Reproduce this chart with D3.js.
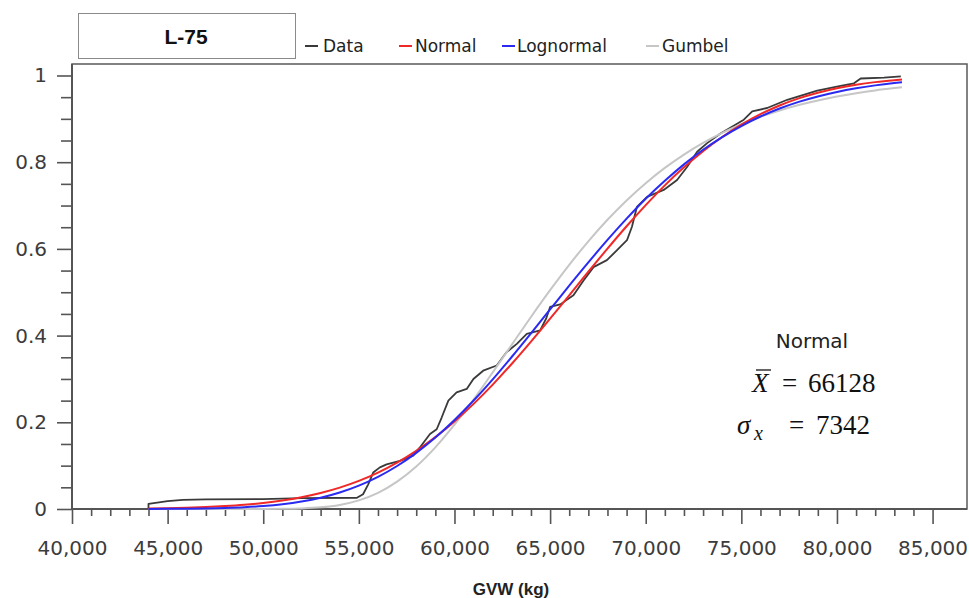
<!DOCTYPE html>
<html>
<head>
<meta charset="utf-8">
<script src="https://cdn.jsdelivr.net/npm/d3@7/dist/d3.min.js"></script>
<style>
  html, body { margin: 0; padding: 0; background: #fff; }
  svg { display: block; }
</style>
</head>
<body>
<svg id="chart" width="969" height="598"></svg>
<script>
// ---------- data ----------
const chartTitle = "L-75";
const seriesNames = ["Data", "Normal", "Lognormal", "Gumbel"];
const xTickValues = [40000, 45000, 50000, 55000, 60000, 65000, 70000, 75000, 80000, 85000];
const yTickValues = [0, 0.2, 0.4, 0.6, 0.8, 1];

// empirical CDF (Data)
const dataX = [44000,44000,45000,45800,47000,50000,52000,54900,55220,55490,55750,56100,56450,57150,57840,58190,58720,59070,59330,59680,60110,60640,60990,61500,62210,62730,63260,63780,64480,64800,65000,65530,66220,66750,67270,67970,68500,69020,69280,69540,70070,70940,71640,72160,72690,73210,73910,74600,75130,75570,76350,77400,78970,80190,80890,81240,82460,83340];
const dataY = [0,0.012,0.018,0.021,0.022,0.023,0.025,0.026,0.034,0.057,0.084,0.096,0.103,0.111,0.123,0.142,0.173,0.184,0.211,0.250,0.269,0.277,0.300,0.319,0.331,0.362,0.381,0.404,0.412,0.440,0.466,0.472,0.493,0.527,0.558,0.574,0.597,0.620,0.651,0.697,0.720,0.736,0.759,0.789,0.824,0.844,0.866,0.884,0.898,0.917,0.925,0.944,0.965,0.976,0.982,0.993,0.995,0.998];

// fitted curves, sampled along GVW
const gvwGrid = [44000,45000,46000,47000,48000,49000,50000,51000,52000,53000,54000,55000,56000,57000,58000,59000,60000,61000,62000,63000,64000,65000,66000,67000,68000,69000,70000,71000,72000,73000,74000,75000,76000,77000,78000,79000,80000,81000,82000,83000,83400];
const normalCdf = [0.0013,0.0020,0.0031,0.0046,0.0068,0.0098,0.0140,0.0197,0.0272,0.0369,0.0493,0.0648,0.0839,0.1069,0.1341,0.1658,0.2019,0.2425,0.2870,0.3350,0.3860,0.4390,0.4930,0.5473,0.6006,0.6522,0.7010,0.7466,0.7881,0.8254,0.8582,0.8866,0.9107,0.9307,0.9471,0.9602,0.9706,0.9786,0.9847,0.9892,0.9907];
const lognormalCdf = [0.0001,0.0003,0.0006,0.0012,0.0023,0.0040,0.0068,0.0110,0.0172,0.0259,0.0380,0.0538,0.0741,0.0992,0.1294,0.1648,0.2053,0.2502,0.2991,0.3512,0.4052,0.4602,0.5152,0.5688,0.6206,0.6697,0.7157,0.7571,0.7950,0.8287,0.8580,0.8834,0.9054,0.9238,0.9391,0.9517,0.9621,0.9705,0.9772,0.9825,0.9843];
const gumbelCdf = [0,0,0,0,0,0,0.0001,0.0004,0.0013,0.0038,0.0094,0.0198,0.0371,0.0630,0.0980,0.1423,0.1945,0.2526,0.3151,0.3791,0.4430,0.5047,0.5632,0.6174,0.6671,0.7118,0.7516,0.7868,0.8176,0.8444,0.8676,0.8876,0.9047,0.9193,0.9318,0.9424,0.9514,0.9590,0.9655,0.9709,0.9729];

const statLabel = "Normal";
const meanValue = "66128";
const sigmaValue = "7342";
const xAxisTitle = "GVW (kg)";

// ---------- layout ----------
const colors = { Data: "#3a3a3a", Normal: "#f02828", Lognormal: "#2a2af2", Gumbel: "#c6c6c6" };
const L = 72, R = 967, T = 64, B = 509;

const svg = d3.select("#chart");
const x = d3.scaleLinear().domain([40000, 86800]).range([L, R]);
const y = d3.scaleLinear().domain([0, 1.0265]).range([B, T]);

// plot frame
svg.append("rect").attr("x", L).attr("y", T).attr("width", R - L).attr("height", B - T)
  .attr("fill", "#fff").attr("stroke", "#5a5a5a").attr("stroke-width", 1.5);

// minor ticks
const xMinor = d3.range(41000, 86000, 1000).filter(v => v % 5000 !== 0);
const yMinor = d3.range(1, 20).map(i => i * 0.05).filter((v, i) => (i + 1) % 4 !== 0);

svg.append("g").attr("transform", `translate(0,${B})`)
  .call(d3.axisBottom(x).tickValues(xTickValues).tickFormat(d3.format(",")).tickSize(15).tickPadding(17));
svg.append("g").attr("transform", `translate(0,${B})`)
  .call(d3.axisBottom(x).tickValues(xMinor).tickFormat("").tickSize(7))
  .call(g => g.select(".domain").remove());

svg.append("g").attr("transform", `translate(${L},0)`)
  .call(d3.axisLeft(y).tickValues(yTickValues).tickFormat(d => (d === 0 || d === 1) ? d3.format("d")(d) : d3.format(".1f")(d)).tickSize(15).tickPadding(10));
svg.append("g").attr("transform", `translate(${L},0)`)
  .call(d3.axisLeft(y).tickValues(yMinor).tickFormat("").tickSize(11))
  .call(g => g.select(".domain").remove());

svg.selectAll(".tick line").attr("stroke", "#555").attr("stroke-width", 1.6);
svg.selectAll(".domain").remove();
svg.selectAll(".tick text").attr("font-family", "DejaVu Sans").attr("font-size", 20).attr("fill", "#3c3c3c");

// axis lines on top of frame
svg.append("line").attr("x1", L).attr("x2", L).attr("y1", T).attr("y2", B + 1).attr("stroke", "#555").attr("stroke-width", 2);
svg.append("line").attr("x1", L - 1).attr("x2", R).attr("y1", B).attr("y2", B).attr("stroke", "#555").attr("stroke-width", 2);

// curves
const fitLine = d3.line().x(d => x(d[0])).y(d => y(d[1])).curve(d3.curveMonotoneX);
const dataLine = d3.line().x(d => x(d[0])).y(d => y(d[1]));

const plot = svg.append("g");
plot.append("path").datum(dataX.map((v, i) => [v, dataY[i]]))
  .attr("d", dataLine).attr("fill", "none").attr("stroke", colors.Data).attr("stroke-width", 1.8).attr("stroke-linejoin", "round");
plot.append("path").datum(gvwGrid.map((v, i) => [v, gumbelCdf[i]]))
  .attr("d", fitLine).attr("fill", "none").attr("stroke", colors.Gumbel).attr("stroke-width", 2);
plot.append("path").datum(gvwGrid.map((v, i) => [v, normalCdf[i]]))
  .attr("d", fitLine).attr("fill", "none").attr("stroke", colors.Normal).attr("stroke-width", 2);
plot.append("path").datum(gvwGrid.map((v, i) => [v, lognormalCdf[i]]))
  .attr("d", fitLine).attr("fill", "none").attr("stroke", colors.Lognormal).attr("stroke-width", 2);

// title box
svg.append("rect").attr("x", 78.5).attr("y", 13.5).attr("width", 217).attr("height", 45)
  .attr("fill", "#fff").attr("stroke", "#8a8a8a").attr("stroke-width", 1);
svg.append("text").attr("x", 186).attr("y", 44).attr("text-anchor", "middle")
  .attr("font-family", "Liberation Sans").attr("font-weight", "bold").attr("font-size", 21).attr("fill", "#111")
  .text(chartTitle);

// legend
const legendPos = { Data: [305, 323], Normal: [399, 415], Lognormal: [502, 517], Gumbel: [646, 662] };
seriesNames.forEach(name => {
  const [lx, tx] = legendPos[name];
  svg.append("line").attr("x1", lx).attr("x2", lx + 13).attr("y1", 46).attr("y2", 46)
    .attr("stroke", colors[name]).attr("stroke-width", 2);
  svg.append("text").attr("x", tx).attr("y", 52).attr("font-family", "DejaVu Sans").attr("font-size", 17)
    .attr("fill", "#222").text(name);
});

// statistics annotation
svg.append("text").attr("x", 812).attr("y", 348).attr("text-anchor", "middle")
  .attr("font-family", "DejaVu Sans").attr("font-size", 20).attr("fill", "#222").text(statLabel);

const serif = "Liberation Serif";
svg.append("text").attr("x", 752).attr("y", 392).attr("font-family", serif).attr("font-style", "italic")
  .attr("font-size", 27).attr("fill", "#111").text("X");
svg.append("line").attr("x1", 756).attr("x2", 771).attr("y1", 370).attr("y2", 370).attr("stroke", "#111").attr("stroke-width", 1.3);
svg.append("text").attr("x", 782).attr("y", 392).attr("font-family", serif).attr("font-size", 27).attr("fill", "#111").text("=");
svg.append("text").attr("x", 808).attr("y", 392).attr("font-family", serif).attr("font-size", 27).attr("fill", "#111").text(meanValue);

svg.append("text").attr("x", 737).attr("y", 434).attr("font-family", serif).attr("font-style", "italic")
  .attr("font-size", 27).attr("fill", "#111").text("σ");
svg.append("text").attr("x", 754).attr("y", 440).attr("font-family", serif).attr("font-style", "italic")
  .attr("font-size", 20).attr("fill", "#111").text("x");
svg.append("text").attr("x", 789).attr("y", 434).attr("font-family", serif).attr("font-size", 27).attr("fill", "#111").text("=");
svg.append("text").attr("x", 816).attr("y", 434).attr("font-family", serif).attr("font-size", 27).attr("fill", "#111").text(sigmaValue);

// x axis title
svg.append("text").attr("x", 511).attr("y", 595).attr("text-anchor", "middle")
  .attr("font-family", "Liberation Sans").attr("font-weight", "bold").attr("font-size", 17).attr("fill", "#222")
  .text(xAxisTitle);
</script>
</body>
</html>
